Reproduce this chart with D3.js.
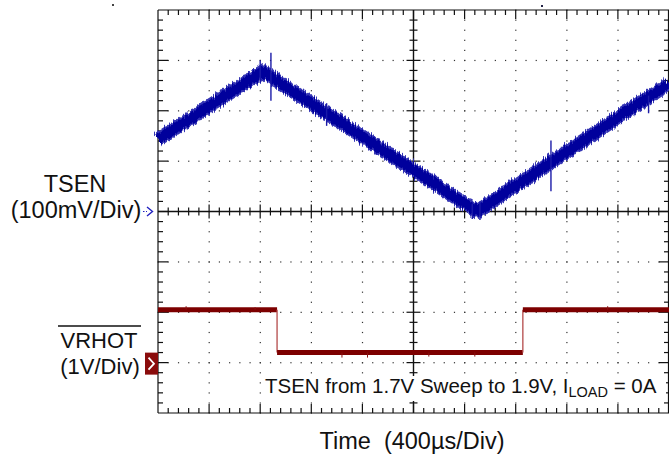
<!DOCTYPE html>
<html lang="en">
<head>
  <meta charset="UTF-8">
  <title>TSEN sweep / VRHOT</title>
  <script src="https://d3js.org/d3.v7.min.js"></script>
  <style>
    body { margin: 0; background: white; }
    svg { display: block; font-family: "Liberation Sans", Arial, sans-serif; }
  </style>
</head>
<body>
  <svg width="669" height="462"></svg>
  <script>
    // time in divisions (400us/div), TSEN in mV above its marker, VRHOT in V above its marker
    const tsenT = [0, 2.05, 6.24, 10];
    const tsenMv = [143, 278, 0, 254];
    // noise spikes: [time div, top mV, bottom mV]
    const tsenSpikes = [[2.21, 315, 220], [2.0, 300, 255], [7.69, 141, 40], [6.3, 20, -17], [6.15, 15, -15], [9.6, 230, 195], [3.3, 215, 170]];
    const vrhotT = [0, 2.33, 2.33, 7.14, 7.14, 10];
    const vrhotV = [1.05, 1.05, 0.2, 0.2, 1.05, 1.05];
    const vrhotSpikes = [[0.55, 1.12], [1.9, 1.1], [3.6, 0.1], [4.1, 0.1], [5.3, 0.12], [8.8, 1.12], [6.2, 0.12]];

    const svg = d3.select("svg");
    const x = d3.scaleLinear().domain([0, 10]).range([158, 669]);
    const y = d3.scaleLinear().domain([-4, 4]).range([413, 10]);
    const tsenY = mv => y(mv / 100);
    const vrhotY = v => y(v - 3);

    const defs = svg.append("defs");
    const f = defs.append("filter").attr("id", "noise")
      .attr("x", "-5%").attr("y", "-20%").attr("width", "110%").attr("height", "140%");
    f.append("feTurbulence").attr("type", "fractalNoise").attr("baseFrequency", "0.9 0.03")
      .attr("numOctaves", 2).attr("seed", 3).attr("result", "t");
    f.append("feDisplacementMap").attr("in", "SourceGraphic").attr("in2", "t")
      .attr("scale", 7).attr("xChannelSelector", "R").attr("yChannelSelector", "G");

    // dotted grid
    const minor = d3.range(0, 10.01, 0.2);
    const minorY = d3.range(-4, 4.01, 0.2);
    const grid = svg.append("g").attr("fill", "#333");
    [1, 2, 3, 4, 6, 7, 8, 9].forEach(d => {
      minorY.forEach(v => grid.append("rect").attr("x", x(d) - 0.5).attr("y", y(v) - 0.5).attr("width", 1.2).attr("height", 1.2));
    });
    [-3, -2, -1, 1, 2, 3].forEach(d => {
      minor.forEach(t => grid.append("rect").attr("x", x(t) - 0.5).attr("y", y(d) - 0.5).attr("width", 1.2).attr("height", 1.2));
    });

    // frame and center axes
    const ax = svg.append("g").attr("stroke", "#111").attr("stroke-width", 1.2);
    ax.append("line").attr("x1", x(0)).attr("x2", x(0)).attr("y1", y(4)).attr("y2", y(-4));
    ax.append("line").attr("x1", x(0)).attr("x2", x(10)).attr("y1", y(4)).attr("y2", y(4));
    ax.append("line").attr("x1", x(0)).attr("x2", x(10)).attr("y1", y(-4)).attr("y2", y(-4));
    ax.append("line").attr("x1", x(10) - 0.5).attr("x2", x(10) - 0.5).attr("y1", y(4)).attr("y2", y(-4));
    ax.append("line").attr("x1", x(5)).attr("x2", x(5)).attr("y1", y(4)).attr("y2", y(-4)).attr("stroke-width", 1.4);
    ax.append("line").attr("x1", x(0)).attr("x2", x(10)).attr("y1", y(0)).attr("y2", y(0)).attr("stroke-width", 1.6);

    const isMajor = v => Math.abs(v - Math.round(v)) < 0.01;
    minor.forEach(t => {
      if (t <= 0.01 || t >= 9.99) return;
      const m = isMajor(t);
      const l = m ? 9 : 5;
      ax.append("line").attr("x1", x(t)).attr("x2", x(t)).attr("y1", y(4)).attr("y2", y(4) + l);
      ax.append("line").attr("x1", x(t)).attr("x2", x(t)).attr("y1", y(-4)).attr("y2", y(-4) - l);
      const c = m ? 7 : 4;
      ax.append("line").attr("x1", x(t)).attr("x2", x(t)).attr("y1", y(0) - c).attr("y2", y(0) + c);
    });
    minorY.forEach(v => {
      if (v <= -3.99 || v >= 3.99) return;
      const m = isMajor(v);
      const l = m ? 10 : 5;
      ax.append("line").attr("x1", x(0)).attr("x2", x(0) + l).attr("y1", y(v)).attr("y2", y(v));
      ax.append("line").attr("x1", x(10)).attr("x2", x(10) - l).attr("y1", y(v)).attr("y2", y(v));
      const c = m ? 7 : 4;
      ax.append("line").attr("x1", x(5) - c).attr("x2", x(5) + c).attr("y1", y(v)).attr("y2", y(v));
    });

    // TSEN trace
    const tsenPts = tsenT.map((t, i) => [x(t), tsenY(tsenMv[i])]);
    const line = d3.line();
    const tr = svg.append("g").attr("filter", "url(#noise)");
    tr.append("path").attr("d", line(tsenPts)).attr("fill", "none")
      .attr("stroke", "#3434b4").attr("stroke-width", 14).attr("stroke-linejoin", "round");
    tr.append("path").attr("d", line(tsenPts)).attr("fill", "none")
      .attr("stroke", "#00009c").attr("stroke-width", 10).attr("stroke-linejoin", "round");
    svg.append("g").attr("stroke", "#1a1aa8").attr("stroke-width", 1.4)
      .selectAll("line").data(tsenSpikes).join("line")
      .attr("x1", d => x(d[0])).attr("x2", d => x(d[0]))
      .attr("y1", d => tsenY(d[1])).attr("y2", d => tsenY(d[2]));

    // VRHOT trace
    const vr = svg.append("g");
    for (let i = 0; i < vrhotT.length - 1; i++) {
      const flat = vrhotV[i] === vrhotV[i + 1];
      vr.append("line")
        .attr("x1", x(vrhotT[i])).attr("x2", x(vrhotT[i + 1]))
        .attr("y1", vrhotY(vrhotV[i])).attr("y2", vrhotY(vrhotV[i + 1]))
        .attr("stroke", flat ? "#7d0000" : "#b44a4a")
        .attr("stroke-width", flat ? 5 : 1.3);
    }
    vr.selectAll(".sp").data(vrhotSpikes).join("line")
      .attr("stroke", "#8a1010").attr("stroke-width", 1)
      .attr("x1", d => x(d[0])).attr("x2", d => x(d[0]))
      .attr("y1", d => vrhotY(d[1])).attr("y2", d => vrhotY(d[1] < 0.5 ? 0.2 : 1.05));

    // channel markers
    svg.append("line").attr("x1", 143).attr("x2", 147).attr("y1", y(0)).attr("y2", y(0))
      .attr("stroke", "#2020c0").attr("stroke-dasharray", "1.5,1.5");
    svg.append("path").attr("d", `M147,${y(0) - 4.5}L152.5,${y(0)}L147,${y(0) + 4.5}`)
      .attr("fill", "none").attr("stroke", "#2020c0").attr("stroke-width", 1.4);
    svg.append("rect").attr("x", 145).attr("y", vrhotY(0) - 10).attr("width", 13).attr("height", 22).attr("fill", "#8a0c0c");
    svg.append("path").attr("d", `M148.5,${vrhotY(0) - 5}L154,${vrhotY(0) + 1}L148.5,${vrhotY(0) + 7}`)
      .attr("fill", "none").attr("stroke", "white").attr("stroke-width", 1.8);

    // trigger marks on top
    svg.append("rect").attr("x", 112).attr("y", 4).attr("width", 2).attr("height", 2).attr("fill", "#444");
    svg.append("rect").attr("x", 541).attr("y", 5).attr("width", 2).attr("height", 2).attr("fill", "#224");

    // labels
    const txt = svg.append("g").attr("fill", "#111");
    txt.append("text").attr("x", 75).attr("y", 192).attr("text-anchor", "middle").attr("font-size", 23.5).text("TSEN");
    txt.append("text").attr("x", 76).attr("y", 218).attr("text-anchor", "middle").attr("font-size", 23.5).text("(100mV/Div)");
    txt.append("text").attr("x", 99).attr("y", 348).attr("text-anchor", "middle").attr("font-size", 22).text("VRHOT");
    txt.append("line").attr("x1", 58).attr("x2", 141).attr("y1", 326).attr("y2", 326).attr("stroke", "#111").attr("stroke-width", 1.3);
    txt.append("text").attr("x", 100).attr("y", 374).attr("text-anchor", "middle").attr("font-size", 22).text("(1V/Div)");
    txt.append("text").attr("x", 412).attr("y", 449).attr("text-anchor", "middle").attr("font-size", 23.5)
      .attr("xml:space", "preserve").text("Time  (400\u00b5s/Div)");

    // annotation sits on a white box that hides the grid behind it
    txt.append("rect").attr("x", 262).attr("y", 376).attr("width", 404).attr("height", 25).attr("fill", "white");
    const note = txt.append("text").attr("x", 265).attr("y", 393).attr("font-size", 20.5);
    note.append("tspan").text("TSEN from 1.7V Sweep to 1.9V, I");
    note.append("tspan").attr("font-size", 14.5).attr("dy", 4).text("LOAD");
    note.append("tspan").attr("dy", -4).text(" = 0A");
  </script>
</body>
</html>
